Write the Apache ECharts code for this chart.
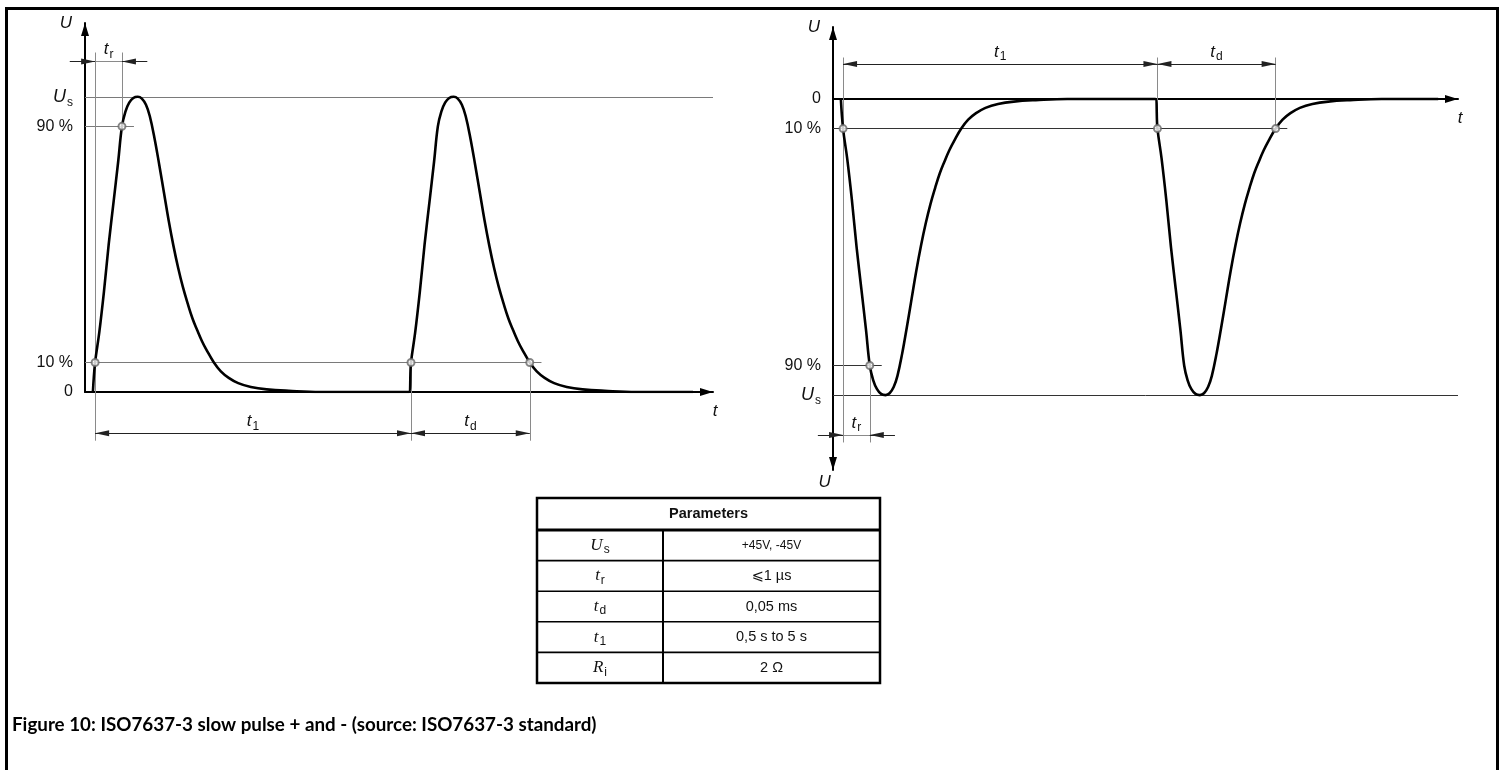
<!DOCTYPE html>
<html>
<head>
<meta charset="utf-8">
<script src="https://cdn.jsdelivr.net/npm/echarts@6/dist/echarts.min.js"></script>
<style>
  html, body { margin: 0; padding: 0; background: #fff; }
  #chart { width: 1504px; height: 770px; }
</style>
</head>
<body>
<div id="chart"></div>
<script>
// ---- Pulse shape: time after pulse start (arbitrary units), level in % of Us ----
const pulseTime  = [0, 0.7, 2, 3.5, 5, 6.5, 8, 9.2, 10.3, 11.5, 12.8, 14.2, 15.5, 16.8, 18, 19.5, 21, 22.5, 24,
                    25.5, 27, 28.5, 30, 31.5, 33, 34.5, 36, 38.3, 40.5, 43, 46, 50, 55, 62, 72];
const pulseLevel = [0, 10, 20, 34, 50, 64, 78, 90, 95, 98, 99.6, 100, 99.4, 97.3, 93.5, 86, 77, 67.5, 58,
                    49.5, 42, 35.5, 30, 25, 21, 17.3, 14.2, 10, 7, 4.8, 3, 1.7, 0.9, 0.4, 0];
// Start of each pulse (t1 = distance between them)
const pulseStarts = [0, 100];
const traceEnd = 190;
// Characteristic instants relative to a pulse start
const rise10 = 0.7;   // 10 % on rising edge
const rise90 = 9.2;   // 90 % on rising edge
const fall10 = 38.3;  // 10 % on falling edge

// Level ticks on the U axis
const levelTicks  = [0, 10, 90, 100];
const levelLabels = ['0', '10 %', '90 %', '{i|U}{sub|s}'];

// Parameter table
const paramSymbols = [['U', 's'], ['t', 'r'], ['t', 'd'], ['t', '1'], ['R', 'i']];
const paramValues  = ['+45V, -45V', '\u2A7D1 \u00B5s', '0,05 ms', '0,5 s to 5 s', '2 \u03A9'];
const tableTitle = 'Parameters';
const caption = 'Figure 10: ISO7637-3 slow pulse + and - (source: ISO7637-3 standard)';

// ---- Styling / layout ----
const SANS = '"Liberation Sans", Arial, "DejaVu Sans", sans-serif';
const SERIF = '"Liberation Serif", "Times New Roman", serif';
const timeMin = -2.5, timeMax = 196.3;
const AXIS_ARROW = 'path://M4,0 M4,13 L8,26 L0,26 Z';
const DIM_ARROW = 'path://M3,0 M3,14 L6,28 L0,28 Z';

const richItalic = {
  i:   { fontFamily: SANS, fontStyle: 'italic', fontSize: 17, color: '#111' },
  sub: { fontFamily: SANS, fontSize: 12, color: '#111', padding: [10, 0, 0, 1] }
};
const dimText = { tr: '{i|t}{sub|r}', t1: '{i|t}{sub|1}', td: '{i|t}{sub|d}' };

const t1 = pulseStarts[1] - pulseStarts[0];

function trace(sign) {
  const pts = [];
  pulseStarts.forEach(s => pulseTime.forEach((t, k) => pts.push([s + t, sign * pulseLevel[k]])));
  pts.push([traceEnd, 0]);
  return pts;
}

// Layout of the dimension lines for each panel (in chart units)
const panels = [
  { sign: 1,  trY: 112,    trExt: 115,  dimY: -14,  dimExt: -16.5, refColor: '#7a7a7a', ninetyEnd: 13 },
  { sign: -1, trY: -113.5, trExt: -116, dimY: 11.8, dimExt: 14,    refColor: '#333',    ninetyEnd: 13 }
];

function xAxisFor(i) {
  return {
    gridIndex: i, type: 'value', min: timeMin, max: timeMax,
    splitLine: { show: false }, axisTick: { show: false }, axisLabel: { show: false },
    axisLine: { show: true, onZero: true, symbol: ['none', AXIS_ARROW], symbolSize: [8, 26],
                lineStyle: { color: '#000', width: 2 } },
    name: 't', nameLocation: 'end', nameGap: 0, nameMoveOverlap: false,
    nameTextStyle: { fontFamily: SANS, fontStyle: 'italic', fontSize: 17, color: '#111',
                     align: 'center', verticalAlign: 'top', padding: [11, 0, 0, 4] }
  };
}
function levelAxisFor(i, min, max, sign, bothArrows) {
  const ticks = levelTicks.map(v => sign * v);
  return {
    gridIndex: i, type: 'value', min, max,
    splitLine: { show: false },
    axisTick: { show: false },
    axisLabel: {
      show: true, customValues: ticks, margin: 12, color: '#111', fontSize: 16, fontFamily: SANS,
      formatter: v => levelLabels[levelTicks.indexOf(Math.abs(Math.round(v)))],
      rich: { i: { fontFamily: SANS, fontStyle: 'italic', fontSize: 18, color: '#111' },
              sub: { fontFamily: SANS, fontSize: 12, color: '#111', padding: [11, 0, 0, 1] } }
    },
    axisLine: { show: true, onZero: false,
                symbol: [bothArrows ? AXIS_ARROW : 'none', AXIS_ARROW], symbolSize: [8, 26],
                lineStyle: { color: '#000', width: 2 } },
    name: 'U', nameLocation: 'end', nameGap: 0, nameMoveOverlap: false,
    nameTextStyle: { fontFamily: SANS, fontStyle: 'italic', fontSize: 17, color: '#111',
                     align: 'right', verticalAlign: 'middle', padding: [0, 13, 4, 0] }
  };
}

function panelSeries(i) {
  const p = panels[i];
  const s = p.sign;
  const base = { coordinateSystem: 'cartesian2d', xAxisIndex: i, yAxisIndex: i, silent: true, clip: false, z: 3 };
  const r10b = t1 + rise10, f10b = t1 + fall10;
  const plain = [
    // reference levels
    { coords: [[timeMin, s * 100], [timeMax, s * 100]], lineStyle: { color: p.refColor } },
    { coords: [[timeMin, s * 90], [p.ninetyEnd, s * 90]], lineStyle: { color: p.refColor } },
    { coords: [[timeMin, s * 10], [142, s * 10]], lineStyle: { color: p.refColor } },
    // extension lines
    { coords: [[rise10, p.trExt], [rise10, p.dimExt]] },
    { coords: [[rise90, s * 90], [rise90, p.trExt]] },
    { coords: [[r10b, s * 10], [r10b, p.dimExt]] },
    { coords: [[f10b, s * 10], [f10b, p.dimExt]] },
    // rise time dimension line
    { name: 'tr', coords: [[rise10 - 8, p.trY], [rise90 + 8, p.trY]] }
  ];
  const both = [
    { name: 't1', coords: [[rise10, p.dimY], [r10b, p.dimY]] },
    { name: 'td', coords: [[r10b, p.dimY], [f10b, p.dimY]] }
  ];
  const single = [
    { coords: [[rise10 - 8, p.trY], [rise10, p.trY]] },
    { coords: [[rise90 + 8, p.trY], [rise90, p.trY]] }
  ];
  const label = {
    show: true, position: 'insideMiddleTop', distance: 1,
    formatter: q => (q.name && dimText[q.name]) || '', rich: richItalic
  };
  return [
    Object.assign({ type: 'lines', data: plain, symbol: 'none', label,
      lineStyle: { color: '#8a8a8a', width: 1, opacity: 1 } }, base),
    Object.assign({ type: 'lines', data: both, symbol: [DIM_ARROW, DIM_ARROW], symbolSize: [[6, 28], [6, 28]], label,
      lineStyle: { color: '#222', width: 1, opacity: 1 } }, base),
    Object.assign({ type: 'lines', data: single, symbol: ['none', DIM_ARROW], symbolSize: [[6, 28], [6, 28]],
      lineStyle: { color: '#222', width: 1, opacity: 1 } }, base),
    {
      type: 'line', xAxisIndex: i, yAxisIndex: i, data: trace(s), showSymbol: false, symbol: 'none',
      smooth: 0.4, silent: true, z: 4,
      lineStyle: { color: '#000', width: 2.6 }
    },
    {
      type: 'scatter', xAxisIndex: i, yAxisIndex: i, silent: true, z: 5,
      symbol: 'emptyCircle', symbolSize: 7,
      itemStyle: { color: '#666', borderWidth: 1 },
      data: [[rise10, s * 10], [rise90, s * 90], [r10b, s * 10], [f10b, s * 10]]
    }
  ];
}

// ---- Parameter table and frame (graphic elements) ----
const tb = { x0: 537, x1: 880, xMid: 663, yTop: 498, yHead: 530, rowH: 30.6 };
const tableGraphics = [];
const yBottom = tb.yHead + tb.rowH * paramValues.length;
tableGraphics.push({ type: 'rect', shape: { x: tb.x0, y: tb.yTop, width: tb.x1 - tb.x0, height: yBottom - tb.yTop },
  style: { fill: '#fff', stroke: '#000', lineWidth: 2.5 }, z: 10 });
tableGraphics.push({ type: 'line', shape: { x1: tb.x0, y1: tb.yHead, x2: tb.x1, y2: tb.yHead },
  style: { stroke: '#000', lineWidth: 3 }, z: 11 });
tableGraphics.push({ type: 'line', shape: { x1: tb.xMid, y1: tb.yHead, x2: tb.xMid, y2: yBottom },
  style: { stroke: '#000', lineWidth: 2 }, z: 11 });
for (let r = 1; r < paramValues.length; r++) {
  const y = tb.yHead + r * tb.rowH;
  tableGraphics.push({ type: 'line', shape: { x1: tb.x0, y1: y, x2: tb.x1, y2: y },
    style: { stroke: '#000', lineWidth: 1.6 }, z: 11 });
}
tableGraphics.push({ type: 'text', x: (tb.x0 + tb.x1) / 2, y: (tb.yTop + tb.yHead) / 2, z: 12,
  style: { text: tableTitle, font: 'bold 14.5px ' + SANS, fill: '#111', align: 'center', verticalAlign: 'middle' } });
paramSymbols.forEach((sym, r) => {
  const yc = tb.yHead + (r + 0.5) * tb.rowH;
  tableGraphics.push({ type: 'text', x: (tb.x0 + tb.xMid) / 2, y: yc, z: 12,
    style: { text: '{v|' + sym[0] + '}{s|' + sym[1] + '}', align: 'center', verticalAlign: 'middle',
      rich: { v: { fontFamily: SERIF, fontStyle: 'italic', fontSize: 17, fill: '#111' },
              s: { fontFamily: SANS, fontSize: 12, fill: '#111', padding: [9, 0, 0, 1] } } } });
  tableGraphics.push({ type: 'text', x: (tb.xMid + tb.x1) / 2, y: yc, z: 12,
    style: { text: paramValues[r], font: (r === 0 ? '12px ' : '14.5px ') + SANS, fill: '#111',
      align: 'center', verticalAlign: 'middle' } });
});

const frame = { type: 'polyline', z: 20,
  shape: { points: [[6.5, 770], [6.5, 8.5], [1497.5, 8.5], [1497.5, 770]] },
  style: { stroke: '#000', lineWidth: 3, fill: null } };
const captionText = { type: 'text', x: 12, y: 725, z: 20,
  style: { text: caption, font: 'bold 18.8px Lato, ' + SANS, fill: '#000', verticalAlign: 'middle' } };

const chart = echarts.init(document.getElementById('chart'), null, { renderer: 'canvas' });
const bottomU = levelAxisFor(1, -125.3, 24.3, -1, false);
Object.assign(bottomU, {
  axisLine: { show: false }, axisLabel: { show: false }, position: 'left', offset: 0,
  nameLocation: 'start', nameGap: 4,
  nameTextStyle: { fontFamily: SANS, fontStyle: 'italic', fontSize: 17, color: '#111',
                   align: 'right', verticalAlign: 'top', padding: [0, 10, 0, 0] }
});

chart.setOption({
  animation: false,
  backgroundColor: '#fff',
  grid: [
    { left: 85, top: 23, width: 628, height: 369, containLabel: false, outerBoundsMode: 'none' },
    { left: 833, top: 27, width: 625, height: 443, containLabel: false, outerBoundsMode: 'none' }
  ],
  xAxis: [xAxisFor(0), xAxisFor(1)],
  yAxis: [
    levelAxisFor(0, 0, 125, 1, false),
    levelAxisFor(1, -125.3, 24.3, -1, true),
    bottomU
  ],
  series: [...panelSeries(0), ...panelSeries(1)],
  graphic: [frame, captionText, ...tableGraphics]
});
</script>
</body>
</html>
